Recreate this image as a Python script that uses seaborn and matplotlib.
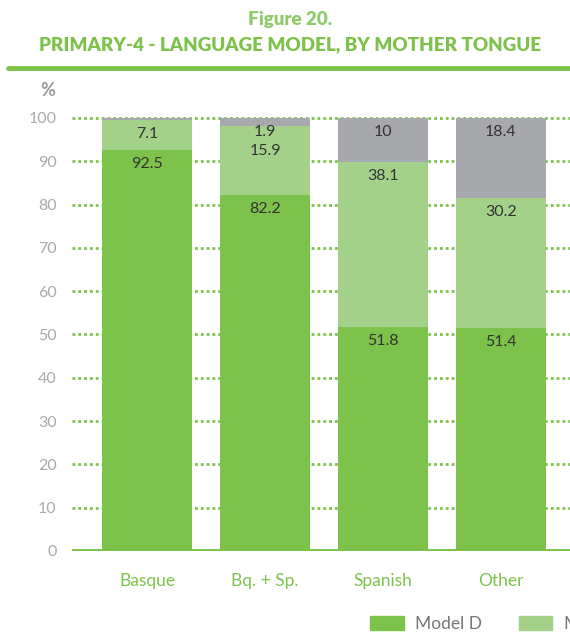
import numpy as np
import pandas as pd
import matplotlib
matplotlib.use("Agg")
import matplotlib.pyplot as plt
import seaborn as sns
from matplotlib.patches import Patch
from matplotlib.lines import Line2D

categories = ["Basque", "Bq. + Sp.", "Spanish", "Other"]
model_d = [92.5, 82.2, 51.8, 51.4]
model_b = [7.1, 15.9, 38.1, 30.2]
model_a = [0.4, 1.9, 10.0, 18.4]
series_names = ["Model D", "Model B", "Model A"]

GREEN = "#7dc24b"
LIGHT = "#a3d18a"
GREY = "#a7a8ac"

sns.set_theme(style="white")
plt.rcParams["font.family"] = ["Lato", "DejaVu Sans"]

df = pd.DataFrame({"cat": categories, "d": model_d, "b": model_b, "a": model_a})
df["db"] = df["d"] + df["b"]
df["dba"] = df["db"] + df["a"]

fig = plt.figure(figsize=(5.7, 6.32), dpi=100)
ax = fig.add_axes([72 / 570, 1 - 551 / 632, 1 - 72 / 570, (551 - 109.3) / 632])

# dotted gridlines
for y in range(10, 101, 10):
    ax.axhline(y, color=GREEN, lw=2, ls=(0, (1, 1.1)), zorder=0)

kw = dict(width=0.77, saturation=1, linewidth=0, ax=ax)
sns.barplot(data=df, x="cat", y="dba", color=GREY, zorder=2, **kw)
sns.barplot(data=df, x="cat", y="db", color=LIGHT, zorder=3, **kw)
sns.barplot(data=df, x="cat", y="d", color=GREEN, zorder=4, **kw)

# labels just under the top of each segment
for cont, vals in zip(ax.containers, [model_a, model_b, model_d]):
    for i, (bar, v) in enumerate(zip(cont, vals)):
        if v < 1:
            continue
        off = -10
        if vals is model_b and i == 1:
            off = -18  # squeezed segment, push below the 1.9 label
        ax.annotate(f"{v:g}", (bar.get_x() + bar.get_width() / 2, bar.get_height()),
                    xytext=(0, off), textcoords="offset points", ha="center",
                    va="center", fontsize=11.5, color="#333333", zorder=6)

ax.axhline(0, color=GREEN, lw=3.5, zorder=5)

ax.set_ylim(0, 102)
ax.set_xlim(-0.636, 3.585)
ax.set_yticks(range(0, 101, 10))
ax.set_xlabel("")
ax.set_ylabel("")
ax.tick_params(axis="y", length=0, pad=11, labelsize=11.5, labelcolor="#aaaaaa")
ax.tick_params(axis="x", length=0, pad=16, labelsize=12.5, labelcolor=GREEN)
sns.despine(ax=ax, left=True, bottom=True, right=True, top=True)

fig.text(0.509, 1 - 20 / 632, "Figure 20.", ha="center", va="center",
         fontsize=13.5, fontweight="heavy", color="#8fca6b")
fig.text(0.509, 1 - 45 / 632, "PRIMARY-4 - LANGUAGE MODEL, BY MOTHER TONGUE",
         ha="center", va="center", fontsize=13.5, fontweight="heavy", color=GREEN)
fig.add_artist(Line2D([8 / 570, 1], [1 - 68 / 632] * 2, color=GREEN, lw=3.5))
fig.text(48 / 570, 1 - 90 / 632, "%", ha="center", va="center", fontsize=13,
         fontweight="bold", color="#999999")

handles = [Patch(color=c) for c in [GREEN, LIGHT, GREY]]
fig.legend(handles, series_names, ncol=3, loc="center left",
           bbox_to_anchor=(370 / 570, 1 - 624 / 632), frameon=False,
           fontsize=12.5, handlelength=1.95, handleheight=0.9, columnspacing=2.1,
           handletextpad=0.65, labelcolor="#777777", borderaxespad=0, borderpad=0)

fig.savefig("out.png", dpi=100)
